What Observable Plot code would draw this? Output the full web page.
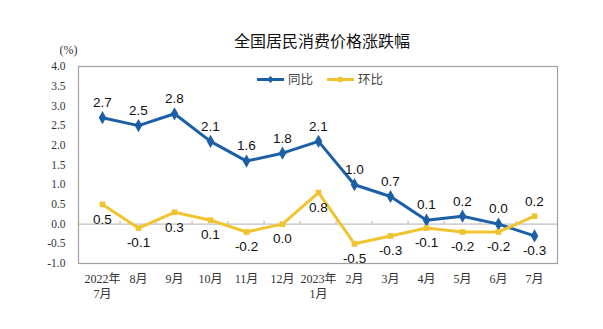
<!DOCTYPE html>
<html>
<head>
<meta charset="utf-8">
<script src="https://cdn.jsdelivr.net/npm/d3@7"></script>
<script src="https://cdn.jsdelivr.net/npm/@observablehq/plot@0.6"></script>
<style>
  html, body { margin: 0; padding: 0; background: #fff; }
  #wrap { position: relative; width: 603px; height: 329px; }
  #legend { position: absolute; left: 257px; top: 71px; display: flex; gap: 14px;
    font-family: "Noto Sans CJK SC", sans-serif; font-size: 12.5px; color: #444; line-height: 16px; }
  #legend span.item { display: flex; align-items: center; gap: 3px; }
</style>
</head>
<body>
<div id="wrap">
  <div id="chart"></div>
  <div id="legend"></div>
</div>
<script>
const title = "全国居民消费价格涨跌幅";
const unitLabel = "(%)";
const months = ["2022年\n7月","8月","9月","10月","11月","12月","2023年\n1月","2月","3月","4月","5月","6月","7月"];
const yoy = [2.7, 2.5, 2.8, 2.1, 1.6, 1.8, 2.1, 1.0, 0.7, 0.1, 0.2, 0.0, -0.3];
const mom = [0.5, -0.1, 0.3, 0.1, -0.2, 0.0, 0.8, -0.5, -0.3, -0.1, -0.2, -0.2, 0.2];
const yTicks = [-1.0, -0.5, 0.0, 0.5, 1.0, 1.5, 2.0, 2.5, 3.0, 3.5, 4.0];
const seriesNames = ["同比", "环比"];
const colors = ["#1d5fa7", "#f0c431"];

const rows = [];
months.forEach((m, i) => {
  rows.push({month: m, series: seriesNames[0], value: yoy[i], other: mom[i]});
  rows.push({month: m, series: seriesNames[1], value: mom[i], other: yoy[i]});
});
const above = rows.filter(d => d.value >= d.other);
const below = rows.filter(d => d.value < d.other);
const fmt = v => (Math.abs(v) < 1e-9 ? 0 : v).toFixed(1);

const W = 603, H = 329, mL = 78, mR = 46;
const step = (W - mL - mR) / months.length;

const chart = Plot.plot({
  width: W, height: H,
  marginLeft: mL, marginRight: mR, marginTop: 66, marginBottom: 66,
  style: {fontFamily: "Liberation Serif, serif", background: "#fff"},
  x: {type: "point", domain: months, padding: 0.5, label: null},
  y: {domain: [-1, 4], label: null},
  color: {domain: seriesNames, range: colors},
  marks: [
    Plot.ruleY([0], {stroke: "#b0b0b0", strokeWidth: 1}),
    Plot.ruleX(months.slice(1), {x: d => d, y1: 0, y2: 0.07, dx: -step / 2, stroke: "#b0b0b0"}),
    Plot.frame({stroke: "#a0a0a0", strokeWidth: 1.2}),
    Plot.axisY({ticks: yTicks, tickFormat: fmt, tickSize: 0, tickPadding: 13, fontSize: 11.5, fill: "#333", label: null}),
    Plot.axisX({tickSize: 0, tickPadding: 9, fontSize: 12, lineHeight: 1.25, fill: "#333", label: null,
      fontFamily: "Liberation Serif, Noto Sans CJK SC, serif"}),
    Plot.line(rows, {x: "month", y: "value", stroke: "series", strokeWidth: 3, z: "series"}),
    Plot.dot(rows.filter(d => d.series === seriesNames[0]), {x: "month", y: "value", symbol: "diamond", r: 4, fill: colors[0]}),
    Plot.dot(rows.filter(d => d.series === seriesNames[1]), {x: "month", y: "value", symbol: "square", r: 3.2, fill: colors[1]}),
    Plot.text(above, {x: "month", y: "value", text: d => fmt(d.value), dy: -15, fontSize: 13.5,
      fontFamily: "Liberation Sans, Arial, sans-serif", fill: "#111"}),
    Plot.text(below, {x: "month", y: "value", text: d => fmt(d.value), dy: 15, fontSize: 13.5,
      fontFamily: "Liberation Sans, Arial, sans-serif", fill: "#111"}),
    Plot.text([title], {frameAnchor: "top", dx: 4, dy: -31, fontSize: 16, fill: "#111",
      fontFamily: "Noto Sans CJK SC, sans-serif"}),
    Plot.text([unitLabel], {frameAnchor: "top-left", dx: -19, dy: -21, fontSize: 12, fill: "#333",
      fontFamily: "Liberation Serif, serif"})
  ]
});
document.getElementById("chart").appendChild(chart);

const legend = document.getElementById("legend");
seriesNames.forEach((name, i) => {
  const item = document.createElement("span");
  item.className = "item";
  const sym = i === 0
    ? `<path d="M13.5,4 L17,7.5 L13.5,11 L10,7.5Z" fill="${colors[i]}"/>`
    : `<rect x="11" y="5" width="5" height="5" fill="${colors[i]}"/>`;
  item.innerHTML = `<svg width="28" height="15"><line x1="0" x2="27" y1="7.5" y2="7.5" stroke="${colors[i]}" stroke-width="3"/>${sym}</svg><span>${name}</span>`;
  legend.appendChild(item);
});
</script>
</body>
</html>
